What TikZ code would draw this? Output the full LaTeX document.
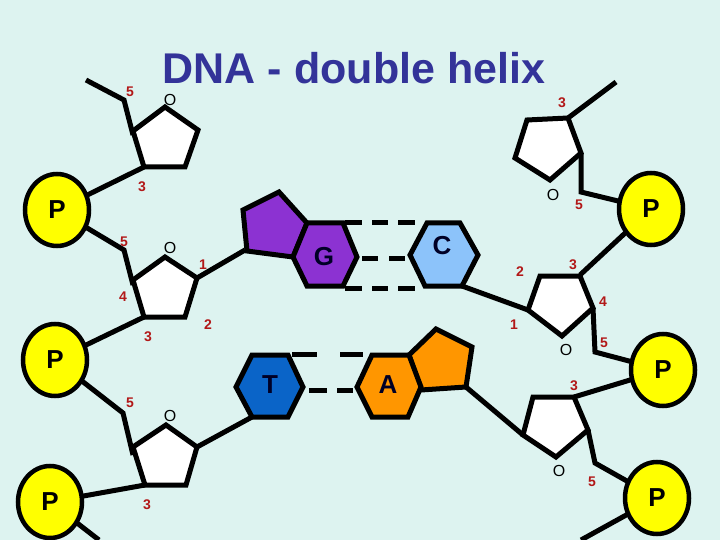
\documentclass[tikz,border=0pt]{standalone}
\usetikzlibrary{shapes.geometric}
\usepackage{fontspec}
\setmainfont{Liberation Sans}
\definecolor{bg}{RGB}{221,243,240}
\definecolor{ttl}{RGB}{51,51,153}
\definecolor{num}{RGB}{178,24,24}
\definecolor{pur}{RGB}{140,50,210}
\definecolor{cblue}{RGB}{140,195,250}
\definecolor{tblue}{RGB}{10,100,200}
\definecolor{orng}{RGB}{255,150,0}
\definecolor{pyel}{RGB}{255,255,0}
\begin{document}
\begin{tikzpicture}[x=1pt,y=-1pt,line join=miter,
  bone/.style={line width=5pt},
  sugar/.style={line width=5pt,fill=white},
  base/.style={line width=5pt},
  hb/.style={line width=5pt},
  num/.style={text=num,font=\bfseries\fontsize{14}{14}\selectfont,inner sep=0},
  oxy/.style={font=\fontsize{16}{16}\selectfont,inner sep=0},
  lett/.style={font=\bfseries\fontsize{26}{26}\selectfont,text=black!85!blue,inner sep=0},
  phos/.style={ellipse,draw,line width=4.5pt,fill=pyel,minimum width=64pt,minimum height=72pt,inner sep=0,font=\bfseries\fontsize{26}{26}\selectfont}]
\fill[bg] (0,0) rectangle (720,540);
\useasboundingbox (0,0) rectangle (720,540);
% title
\node[text=ttl,font=\bfseries\fontsize{43}{43}\selectfont,inner sep=0] (title) at (354,68) {DNA - double helix};
% phosphate positions
\coordinate (P1) at (57,210);
\coordinate (P2) at (651,209);
\coordinate (P3) at (663,370);
\coordinate (P4) at (657,498);
\coordinate (P5) at (55,360);
\coordinate (P6) at (50,502);
% backbone lines
\draw[bone] (86,80) -- (124,100) -- (133,135);
\draw[bone] (144,167) -- (P1);
\draw[bone] (P1) -- (124,250) -- (133,285);
\draw[bone] (144,317) -- (P5);
\draw[bone] (P5) -- (123,413) -- (133,455);
\draw[bone] (145,485) -- (P6);
\draw[bone] (P6) -- (99,540);
\draw[bone] (197,278) -- (245,250);
\draw[bone] (252,417) -- (197,447);
\draw[bone] (568,118) -- (616,82);
\draw[bone] (581,153) -- (581,192) -- (P2);
\draw[bone] (P2) -- (580,275);
\draw[bone] (462,286) -- (528,310);
\draw[bone] (593,308) -- (595,352) -- (P3);
\draw[bone] (P3) -- (574,397);
\draw[bone] (466,387) -- (523,435);
\draw[bone] (588,430) -- (595,463) -- (P4);
\draw[bone] (P4) -- (581,540);
% phosphates
\node[phos] (p1) at (P1) {P};
\node[phos] (p2) at (P2) {P};
\node[phos] (p3) at (P3) {P};
\node[phos] (p4) at (P4) {P};
\node[phos] (p5) at (P5) {P};
\node[phos] (p6) at (P6) {P};
% sugars
\draw[sugar] (165,107) -- (198,130) -- (185,167) -- (144,167) -- (133,131) -- cycle;
\draw[sugar] (165,257) -- (197,278) -- (185,317) -- (144,317) -- (133,280) -- cycle;
\draw[sugar] (166,425) -- (197,447) -- (186,485) -- (145,485) -- (133,447) -- cycle;
\draw[sugar] (527,120) -- (568,118) -- (581,153) -- (550,180) -- (515,158) -- cycle;
\draw[sugar] (540,276) -- (580,276) -- (593,308) -- (562,336) -- (528,310) -- cycle;
\draw[sugar] (533,397) -- (574,397) -- (588,430) -- (556,457) -- (523,435) -- cycle;
% bases
\draw[base,fill=pur] (243,210) -- (279,192) -- (307,223) -- (293,257) -- (247,251) -- cycle;
\draw[base,fill=pur] (307,223) -- (343,223) -- (357,257) -- (343,286) -- (307,286) -- (293,257) -- cycle;
\node[lett] (G) at (324,257) {G};
\draw[base,fill=cblue] (427,223) -- (460,223) -- (478,255) -- (462,286) -- (425,286) -- (410,255) -- cycle;
\node[lett] (C) at (442,246) {C};
\draw[base,fill=tblue] (252,355) -- (288,355) -- (303,387) -- (288,417) -- (252,417) -- (236,387) -- cycle;
\node[lett] (T) at (270,385) {T};
\draw[base,fill=orng] (409,355) -- (436,329) -- (472,347) -- (466,387) -- (421,390) -- cycle;
\draw[base,fill=orng] (372,355) -- (409,355) -- (421,387) -- (408,417) -- (372,417) -- (357,387) -- cycle;
\node[lett] (A) at (388,385) {A};
% hydrogen bonds
\foreach \y in {223,288} {\draw[hb] (345,\y) -- (362,\y) (372,\y) -- (388,\y) (398,\y) -- (415,\y);}
\draw[hb] (362,258) -- (378,258) (389,258) -- (405,258);
\draw[hb] (292,354) -- (317,354) (340,354) -- (363,354);
\draw[hb] (309,390) -- (327,390) (337,390) -- (353,390);
% labels
\node[num] at (130,92) {5};
\node[oxy] at (170,100) {O};
\node[num] at (142,187) {3};
\node[num] at (124,242) {5};
\node[oxy] at (170,248) {O};
\node[num] at (203,265) {1};
\node[num] at (123,297) {4};
\node[num] at (208,325) {2};
\node[num] at (148,337) {3};
\node[num] at (130,403) {5};
\node[oxy] at (170,416) {O};
\node[num] at (147,505) {3};
\node[num] at (562,103) {3};
\node[oxy] at (553,195) {O};
\node[num] at (579,205) {5};
\node[num] at (573,265) {3};
\node[num] at (520,272) {2};
\node[num] at (603,302) {4};
\node[num] at (514,325) {1};
\node[oxy] at (566,350) {O};
\node[num] at (604,343) {5};
\node[num] at (574,386) {3};
\node[oxy] at (559,471) {O};
\node[num] at (592,482) {5};
\end{tikzpicture}
\end{document}
